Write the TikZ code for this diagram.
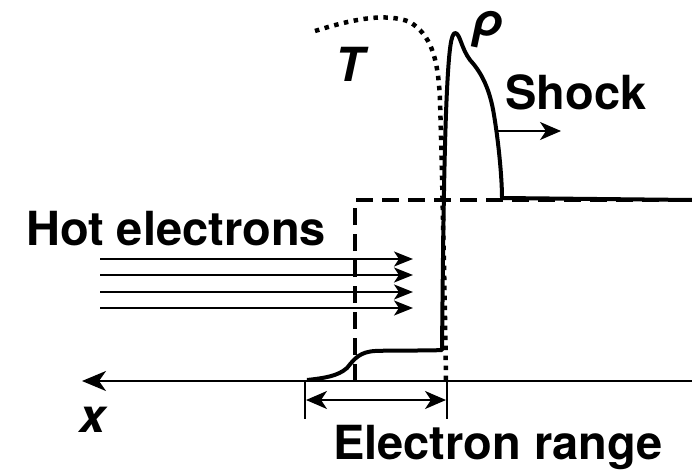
\documentclass[tikz,border=0pt]{standalone}
\usepackage{fontspec}
\setmainfont{TeX Gyre Heros}
\usetikzlibrary{arrows.meta}
\begin{document}
\begin{tikzpicture}[x=1pt,y=-1pt,
  lbl/.style={font=\fontsize{47}{50}\selectfont\bfseries, inner sep=0pt, anchor=base},
  thin/.style={line width=2pt},
  bigtip/.tip={Stealth[length=24pt,width=20pt,inset=7pt]},
  medtip/.tip={Stealth[length=21pt,width=18pt,inset=6pt]},
  smalltip/.tip={Stealth[length=19pt,width=15pt,inset=5pt]},
  curve/.style={line width=4pt, line join=round},
  ]
\useasboundingbox (0,0) rectangle (692,473);
% axis
\coordinate (axR) at (692,381);
\coordinate (axL) at (82,381);
\draw[thin,-bigtip] (axR) -- (axL);
% ticks
\coordinate (t1a) at (305,381); \coordinate (t1b) at (305,419);
\coordinate (t2a) at (447,381); \coordinate (t2b) at (447,419);
\draw[thin] (t1a) -- (t1b);
\draw[thin] (t2a) -- (t2b);
\coordinate (r1) at (306,400); \coordinate (r2) at (446,400);
\draw[thin,medtip-medtip] (r1) -- (r2);
% dashed step
\draw[line width=4pt, dash pattern=on 17pt off 9pt] (355,381) -- (355,200) -- (692,200);
% hot electron arrows
\foreach \yy/\n in {259/a,275/b,292/c,308/d}{
  \coordinate (h\n1) at (100,\yy); \coordinate (h\n2) at (413,\yy);
  \draw[thin,-smalltip] (h\n1) -- (h\n2);
}
% shock arrow
\coordinate (s1) at (498,131); \coordinate (s2) at (561,131);
\draw[thin,-medtip] (s1) -- (s2);
% T curve dotted
\draw[line width=4.5pt, dash pattern=on 4.5pt off 5.5pt]
  (315,31) .. controls (350,20) and (385,12) .. (410,22)
  .. controls (430,35) and (438,55) .. (440,100)
  .. controls (442,170) and (445,300) .. (446,381);
% rho curve
\draw[curve] (307,380) .. controls (325,378) and (338,376) .. (347,368)
  .. controls (355,358) and (360,352) .. (375,351)
  .. controls (400,350) and (425,351) .. (442,350)
  .. controls (443,250) and (444,150) .. (447,90)
  .. controls (449,50) and (451,34) .. (455,33)
  .. controls (460,33) and (461,48) .. (470,60)
  .. controls (482,73) and (490,90) .. (494,115)
  .. controls (499,145) and (502,180) .. (502,198)
  -- (692,200);
% labels
\node[lbl] (hot) at (176,245) {Hot electrons};
\node[lbl] (shock) at (576,110) {Shock};
\node[lbl] (range) at (498,459) {Electron range};
\node[lbl] (xl) at (93,432) {\itshape x};
\node[lbl] (T) at (350,82) {\itshape T};
\node[lbl] (rho) at (488,37) {\itshape ρ};
\end{tikzpicture}
\end{document}
